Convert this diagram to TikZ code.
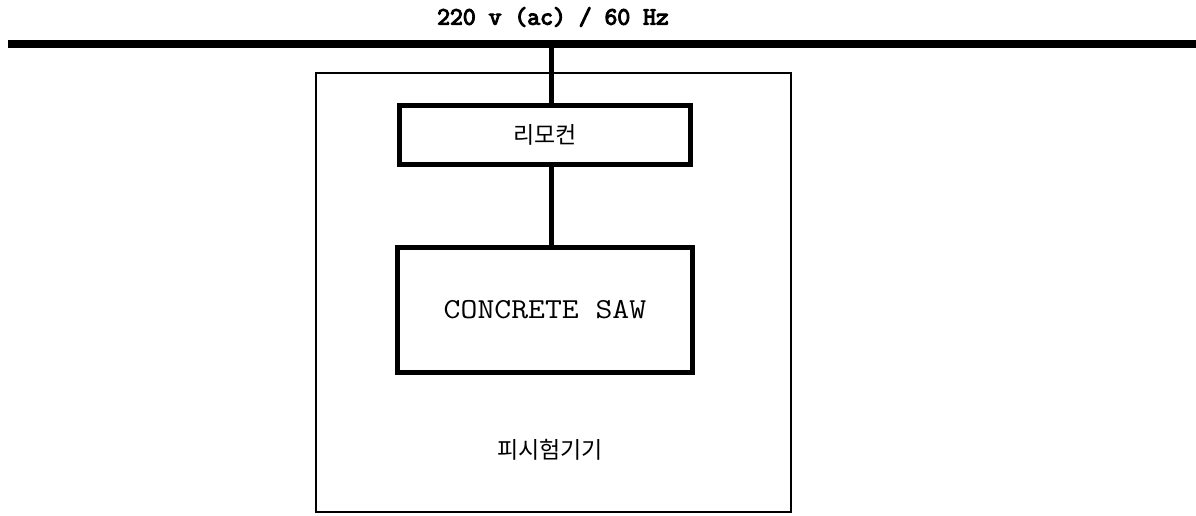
\documentclass[tikz,border=0pt]{standalone}
\usepackage{fontspec}
\newfontfamily\krfont{Noto Sans CJK KR}
\newfontfamily\monotop[FakeBold=4.5]{Latin Modern Mono}
\newfontfamily\monobox[FakeStretch=1.13]{Latin Modern Mono}
\begin{document}
\begin{tikzpicture}[x=1pt,y=-1pt,
  thickbox/.style={draw, line width=5pt, inner sep=0pt},
  wire/.style={line width=5pt},
  busline/.style={line width=8pt},
  frame/.style={draw, line width=2pt, inner sep=0pt}]
\useasboundingbox (0,0) rectangle (1196,515);
\fill[white] (0,0) rectangle (1196,515);
% bus
\coordinate (busL) at (8,43.5);
\coordinate (busR) at (1196,43.5);
\draw[busline] (busL) -- (busR);
\node (supply) at (553,17) {\monotop\fontsize{25}{25}\selectfont 220 v (ac) / 60 Hz};
% enclosure
\node[frame, minimum width=475pt, minimum height=439pt] (dut) at (553.5,292.5) {};
\node (dutlabel) at (550,450) {\krfont\fontsize{23}{23}\selectfont 피시험기기};
% boxes
\node[thickbox, minimum width=291pt, minimum height=59pt] (remote) at (545,135) {\krfont\fontsize{23}{23}\selectfont 리모컨};
\node[thickbox, minimum width=295pt, minimum height=125pt] (saw) at (545,310) {\monobox\fontsize{29}{29}\selectfont CONCRETE SAW};
% connectors
\coordinate (tap) at (551,43.5);
\draw[wire] (tap) -- (tap |- remote.north);
\draw[wire] (tap |- remote.south) -- (tap |- saw.north);
\end{tikzpicture}
\end{document}
